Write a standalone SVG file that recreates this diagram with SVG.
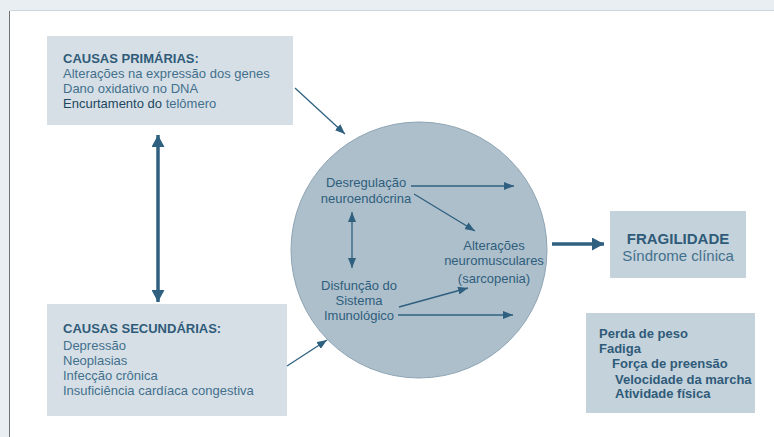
<svg xmlns="http://www.w3.org/2000/svg" width="774" height="437" viewBox="0 0 774 437">
<style>
text{font-family:"Liberation Sans",Arial,sans-serif;font-size:13px;fill:#43708d}
.b{font-weight:bold;fill:#2f5b79}
.dk{fill:#21475f}
.c{text-anchor:middle}
.ci{fill:#2f5e7d}
.box{fill:#d6dfe6}
.box2{fill:#c4d2db}
.ln{stroke:#2f6080;stroke-width:1.3;fill:none}
.tk{stroke:#2f6080;stroke-width:3.5;fill:none}
</style>
<defs>
<marker id="a" viewBox="0 0 10 8" refX="10" refY="4" markerWidth="10" markerHeight="8" markerUnits="userSpaceOnUse" orient="auto-start-reverse"><path d="M0,0 L10,4 L0,8 z" fill="#2f6080"/></marker>
<marker id="t" viewBox="0 0 12 13" refX="12" refY="6.5" markerWidth="12" markerHeight="13" markerUnits="userSpaceOnUse" orient="auto-start-reverse"><path d="M0,0 L12,6.5 L0,13 z" fill="#2f6080"/></marker>
</defs>
<rect x="0" y="0" width="774" height="437" fill="#e8eef1"/>
<rect x="10" y="11" width="764" height="426" fill="#ffffff"/>
<line x1="10" y1="10.5" x2="774" y2="10.5" stroke="#cfd6db" stroke-width="1"/>
<line x1="9.5" y1="11" x2="9.5" y2="437" stroke="#707070" stroke-width="1"/>

<g id="primarias">
<rect class="box" x="47" y="36" width="246" height="89"/>
<text x="63" y="63" class="b">CAUSAS PRIMÁRIAS:</text>
<text x="63" y="78">Alterações na expressão dos genes</text>
<text x="63" y="93">Dano oxidativo no DNA</text>
<text x="63" y="108"><tspan class="dk">Encurtamento do</tspan> telômero</text>
</g>

<g id="secundarias">
<rect class="box" x="47" y="304" width="240" height="112"/>
<text x="63" y="333" class="b">CAUSAS SECUNDÁRIAS:</text>
<text x="63" y="350">Depressão</text>
<text x="63" y="365">Neoplasias</text>
<text x="63" y="380">Infecção crônica</text>
<text x="63" y="395">Insuficiência cardíaca congestiva</text>
</g>

<g id="circulo">
<circle cx="419" cy="250" r="128" fill="#adbfcb" stroke="#8ea4b3" stroke-width="1"/>
</g>

<g id="desregulacao">
<text x="366" y="187" class="c ci">Desregulação</text>
<text x="366" y="203" class="c ci">neuroendócrina</text>
</g>

<g id="disfuncao">
<text x="359" y="290" class="c ci">Disfunção do</text>
<text x="359" y="305" class="c ci">Sistema</text>
<text x="359" y="320" class="c ci">Imunológico</text>
</g>

<g id="neuromusculares">
<text x="494" y="250" class="c ci">Alterações</text>
<text x="494" y="265" class="c ci">neuromusculares</text>
<text x="494" y="283" class="c ci">(sarcopenia)</text>
</g>

<g id="fragilidade">
<rect class="box2" x="610" y="211" width="136" height="67"/>
<text x="678" y="244" class="c b" style="font-size:15px">FRAGILIDADE</text>
<text x="678" y="261" class="c" style="font-size:15px">Síndrome clínica</text>
</g>

<g id="criterios">
<rect class="box2" x="586" y="313" width="169" height="100"/>
<text x="599" y="338" class="b">Perda de peso</text>
<text x="599" y="353" class="b">Fadiga</text>
<text x="612" y="368" class="b">Força de preensão</text>
<text x="615" y="384" class="b">Velocidade da marcha</text>
<text x="615" y="398" class="b">Atividade física</text>
</g>

<g id="connectors">
<line class="tk" x1="158" y1="135" x2="158" y2="302" marker-start="url(#t)" marker-end="url(#t)"/>
<line class="ln" x1="295" y1="88" x2="345" y2="134" marker-end="url(#a)"/>
<line class="ln" x1="287" y1="366" x2="327" y2="340" marker-end="url(#a)"/>
<line class="ln" x1="411" y1="186" x2="514" y2="186" marker-end="url(#a)"/>
<line class="ln" x1="414" y1="194" x2="475" y2="231" marker-end="url(#a)"/>
<line class="ln" x1="352" y1="212" x2="352" y2="268" marker-start="url(#a)" marker-end="url(#a)"/>
<line class="ln" x1="399" y1="307" x2="468" y2="288" marker-end="url(#a)"/>
<line class="ln" x1="398" y1="315" x2="513" y2="315" marker-end="url(#a)"/>
<line class="tk" x1="552" y1="244" x2="604" y2="244" marker-end="url(#t)"/>
</g>
</svg>
